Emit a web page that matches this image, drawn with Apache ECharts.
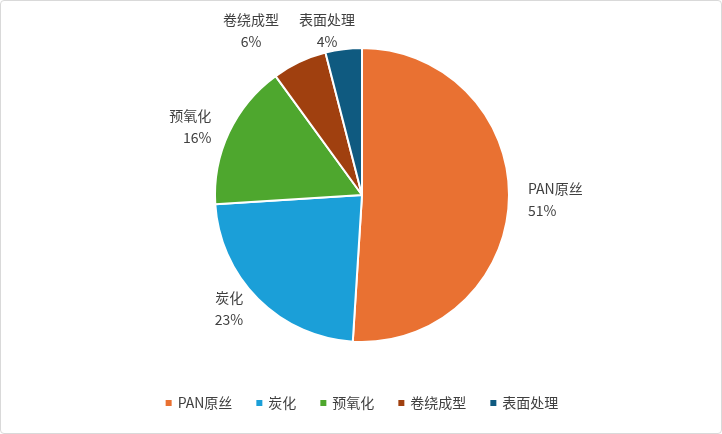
<!DOCTYPE html><html><head><meta charset="utf-8">
<script src="https://cdn.jsdelivr.net/npm/echarts@6/dist/echarts.min.js"></script>
<style>html,body{margin:0;padding:0;background:#fff}#c{width:720px;height:432px;border:1px solid #d9d9d9;border-radius:4px}</style>
</head><body><div id="c"></div><script>
const categories=['PAN原丝','炭化','预氧化','卷绕成型','表面处理'];
const values=[51,23,16,6,4];
const colors=['#E97132','#1B9FD8','#4EA72E','#A0400F','#0F5A80'];
const chart=echarts.init(document.getElementById('c'));
chart.setOption({
 color:colors,
 textStyle:{fontFamily:'Noto Sans CJK SC'},
 legend:{bottom:18,left:'center',itemWidth:8,itemHeight:8,icon:'rect',itemGap:22,textStyle:{fontSize:14,color:'#404040'},data:categories},
 series:[{type:'pie',center:[361,194],radius:147,startAngle:90,clockwise:true,avoidLabelOverlap:false,
  itemStyle:{borderColor:'#fff',borderWidth:2},
  label:{show:true,position:'outside',formatter:'{b}\n{d}%',fontSize:14,color:'#404040',lineHeight:22,align:'center'},
  labelLine:{show:false,length:14,length2:0},
  labelLayout:function(p){
    if(p.dataIndex===3) return {x:250,y:30,align:'center',verticalAlign:'middle'};
    if(p.dataIndex===4) return {x:326,y:30,align:'center',verticalAlign:'middle'};
    return {};
  },
  data:categories.map((n,i)=>({name:n,value:values[i]}))}]
});
</script></body></html>
